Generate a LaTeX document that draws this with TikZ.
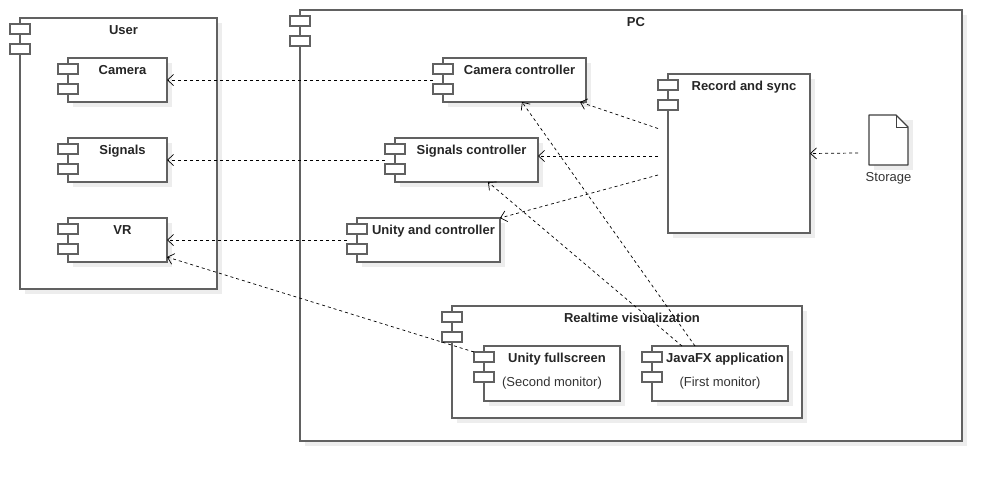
\documentclass[tikz,border=0pt]{standalone}
\usepackage{fontspec}
\setmainfont{Liberation Sans}
\usetikzlibrary{arrows.meta,positioning,shadows}

% the two small tabs of a component
\newcommand\compicons[1]{%
  \draw[icon] ([shift={(-10pt,-6pt)}]#1.north west) rectangle ++(20pt,-10pt);
  \draw[icon] ([shift={(-10pt,-26pt)}]#1.north west) rectangle ++(20pt,-10pt);
}

\begin{document}
\begin{tikzpicture}[x=1pt,y=-1pt,
	font=\fontsize{13}{15}\selectfont,
	comp/.style={draw=black!62, line width=1.5pt, fill=white, anchor=north west, inner sep=0pt, outer sep=0pt,
		drop shadow={shadow xshift=5pt, shadow yshift=-5pt, fill=black!7, opacity=1}},
	icon/.style={draw=black!62, line width=1.3pt, fill=white},
	title/.style={font=\fontsize{13}{15}\selectfont\bfseries, anchor=base, inner sep=0pt, text=black!85},
	note/.style={anchor=base, inner sep=0pt, text=black!80},
	dep/.style={draw=black, line width=0.7pt, dash pattern=on 3pt off 3pt,
		-{Straight Barb[length=6pt,width=11pt]}}]

	\useasboundingbox (0,0) rectangle (1002,482);

	% user side
	\node[comp, minimum width=197pt, minimum height=271pt] (user) at (20,18) {};
	\compicons{user}
	\node[title] (user-t) at ([xshift=5pt,yshift=-16.5pt]user.north) {User};

	\node[comp, minimum width=99pt, minimum height=44pt] (camera) at (68,58) {};
	\node[comp, minimum width=99pt, minimum height=44pt] (signals) [below=36pt of camera] {};
	\node[comp, minimum width=99pt, minimum height=44pt] (vr) [below=36pt of signals] {};
	\foreach \c/\t in {camera/Camera, signals/Signals, vr/VR} {
		\compicons{\c}
		\node[title] (\c-t) at ([xshift=5pt,yshift=-16.5pt]\c.north) {\t};
	}

	% pc side
	\node[comp, minimum width=662pt, minimum height=431pt] (pc) at (300,10) {};
	\compicons{pc}
	\node[title] (pc-t) at ([xshift=5pt,yshift=-16.5pt]pc.north) {PC};

	\node[comp, minimum width=143pt, minimum height=44pt] (camctl) at (443,58) {};
	\node[comp, minimum width=143pt, minimum height=44pt] (sigctl) at (395,138) {};
	\node[comp, minimum width=143pt, minimum height=44pt] (unityctl) at (357,218) {};
	\node[comp, minimum width=142pt, minimum height=159pt] (record) at (668,74) {};
	\foreach \c/\t in {camctl/Camera controller, sigctl/Signals controller,
		unityctl/Unity and controller, record/Record and sync} {
		\compicons{\c}
		\node[title] (\c-t) at ([xshift=5pt,yshift=-16.5pt]\c.north) {\t};
	}

	\node[comp, minimum width=350pt, minimum height=112pt] (realtime) at (452,306) {};
	\compicons{realtime}
	\node[title] (realtime-t) at ([xshift=5pt,yshift=-16.5pt]realtime.north) {Realtime visualization};

	\node[comp, minimum width=136pt, minimum height=55pt] (unityfs) at (484,346) {};
	\node[comp, minimum width=136pt, minimum height=55pt] (javafx) [right=32pt of unityfs] {};
	\compicons{unityfs}
	\compicons{javafx}
	\node[title] (unityfs-t) at ([xshift=5pt,yshift=-16.5pt]unityfs.north) {Unity fullscreen};
	\node[note] (unityfs-n) at ([yshift=-40.5pt]unityfs.north) {(Second monitor)};
	\node[title] (javafx-t) at ([xshift=5pt,yshift=-16.5pt]javafx.north) {JavaFX application};
	\node[note] (javafx-n) at ([yshift=-40.5pt]javafx.north) {(First monitor)};

	% storage document
	\node[inner sep=0pt, outer sep=0pt, minimum width=39pt, minimum height=50pt, anchor=north west] (storage) at (869,115) {};
	\fill[black!7] ([shift={(5pt,-5pt)}]storage.north west) rectangle ([shift={(5pt,-5pt)}]storage.south east);
	\draw[draw=black!75, line width=1.3pt, fill=white, line join=round] (storage.north west)
		-- ([xshift=-12pt]storage.north east) -- ([yshift=-12pt]storage.north east)
		-- (storage.south east) -- (storage.south west) -- cycle;
	\draw[draw=black!75, line width=1pt] ([xshift=-12pt]storage.north east) |- ([yshift=-12pt]storage.north east);
	\node[note] (storage-t) at ([yshift=-16.5pt]storage.south) {Storage};

	% dependencies
	\draw[dep] ([xshift=-10pt]camctl.west) -- (camera.east);
	\draw[dep] ([xshift=-10pt]sigctl.west) -- (signals.east);
	\draw[dep] ([xshift=-10pt]unityctl.west) -- (vr.east);
	\draw[dep] ([shift={(-10pt,-6pt)}]unityfs.north west) -- ([yshift=-17pt]vr.east);
	\draw[dep] ([xshift=-10pt,yshift=25pt]record.west) -- ([xshift=-6pt]camctl.south east);
	\draw[dep] ([xshift=-10pt,yshift=-2.5pt]record.west) -- ([yshift=4pt]sigctl.east);
	\draw[dep] ([xshift=-10pt,yshift=-21.5pt]record.west) -- (unityctl.north east);
	\draw[dep] ([xshift=-11pt,yshift=-13pt]storage.west) -- (record.east);
	\draw[dep] ([xshift=-25pt]javafx.north) -- ([xshift=7.5pt]camctl.south);
	\draw[dep] ([xshift=-38pt]javafx.north) -- ([xshift=21.5pt]sigctl.south);

\end{tikzpicture}
\end{document}
